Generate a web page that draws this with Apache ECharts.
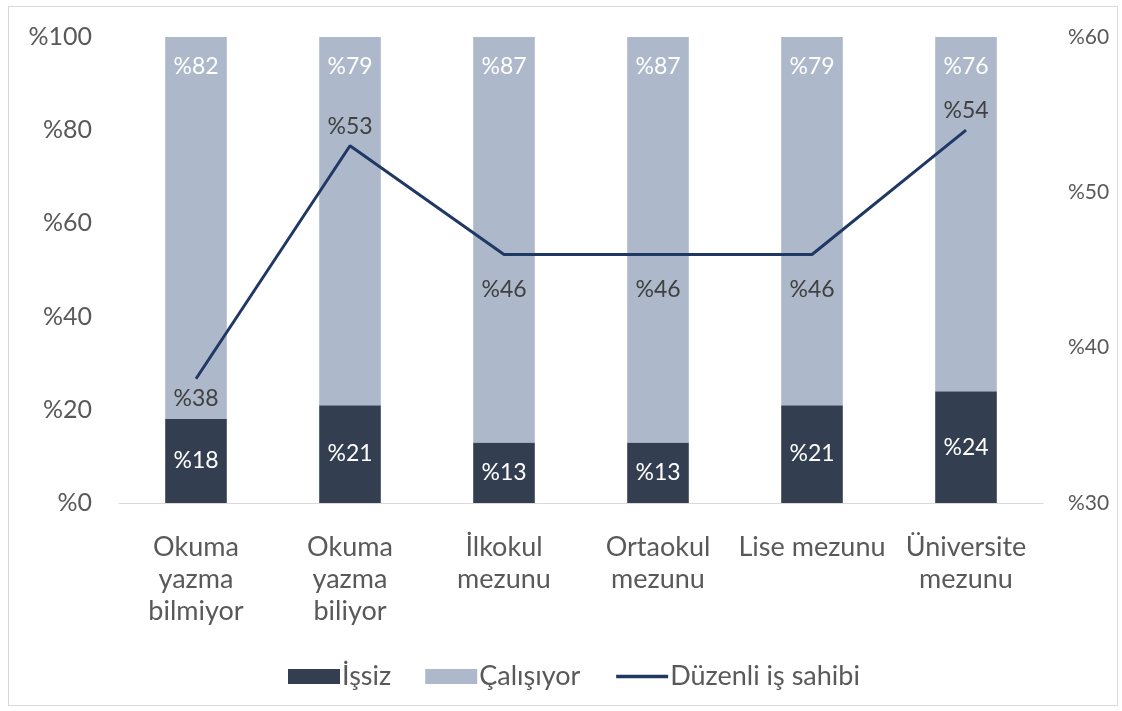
<!DOCTYPE html>
<html>
<head>
<meta charset="utf-8">
<script src="https://cdn.jsdelivr.net/npm/echarts@6/dist/echarts.min.js"></script>
<style>
  html, body { margin: 0; padding: 0; background: #fff; }
  #wrap { position: absolute; left: 8px; top: 6px; width: 1110px; height: 700px; border: 1px solid #d9d9d9; box-sizing: border-box; }
  #chart { position: absolute; left: 0; top: 0; width: 1122px; height: 711px; }
</style>
</head>
<body>
<div id="wrap"></div>
<div id="chart"></div>
<script>
// kategoriler
const categories = ['Okuma\nyazma\nbilmiyor', 'Okuma\nyazma\nbiliyor', 'İlkokul\nmezunu', 'Ortaokul\nmezunu', 'Lise mezunu', 'Üniversite\nmezunu'];
const issiz = [18, 21, 13, 13, 21, 24];       // İşsiz
const calisiyor = [82, 79, 87, 87, 79, 76];   // Çalışıyor
const duzenli = [38, 53, 46, 46, 46, 54];     // Düzenli iş sahibi (sağ eksen)
const labelPos = ['bottom', 'top', 'bottom', 'bottom', 'bottom', 'top'];

const fontFam = 'Lato, "Open Sans", sans-serif';

let myChart = echarts.init(document.getElementById('chart'));

let option = {
    backgroundColor: 'transparent',
    textStyle: { fontFamily: fontFam },
    grid: { left: 119, right: 79, top: 37, bottom: 208 },
    legend: {
        top: 658,
        left: 283,
        itemWidth: 52,
        itemHeight: 15,
        itemGap: 34,
        textStyle: { fontSize: 27, color: '#595959', fontFamily: fontFam, padding: [0, 0, 0, -3] },
        data: [
            { name: 'İşsiz', icon: 'rect' },
            { name: 'Çalışıyor', icon: 'rect' },
            { name: 'Düzenli iş sahibi', itemStyle: { opacity: 0 }, lineStyle: { width: 3.5 } }
        ]
    },
    xAxis: {
        type: 'category',
        data: categories,
        axisLine: { lineStyle: { color: '#d9d9d9', width: 1 } },
        axisTick: { show: false },
        axisLabel: { fontSize: 27, color: '#595959', lineHeight: 32, margin: 28, interval: 0 }
    },
    yAxis: [
        {
            type: 'value', min: 0, max: 100, interval: 20,
            splitLine: { show: false },
            axisLine: { show: false },
            axisTick: { show: false },
            axisLabel: { fontSize: 25, color: '#595959', margin: 27, formatter: '%{value}' }
        },
        {
            type: 'value', min: 30, max: 60, interval: 10,
            splitLine: { show: false },
            axisLine: { show: false },
            axisTick: { show: false },
            axisLabel: { fontSize: 21, color: '#595959', margin: 25, formatter: '%{value}' }
        }
    ],
    series: [
        {
            name: 'İşsiz',
            type: 'bar',
            stack: 'a',
            barWidth: '40%',
            itemStyle: { color: '#333f50' },
            label: { show: true, position: 'inside', color: '#fff', fontSize: 23, formatter: '%{c}' },
            data: issiz
        },
        {
            name: 'Çalışıyor',
            type: 'bar',
            stack: 'a',
            barWidth: '40%',
            itemStyle: { color: '#adb9ca' },
            label: { show: true, position: 'insideTop', distance: 18, color: '#fff', fontSize: 23, formatter: '%{c}' },
            data: calisiyor
        },
        {
            name: 'Düzenli iş sahibi',
            type: 'line',
            yAxisIndex: 1,
            symbol: 'circle',
            symbolSize: 0,
            z: 5,
            lineStyle: { color: '#203864', width: 3 },
            itemStyle: { color: '#203864' },
            label: { show: true, fontSize: 23, color: '#404040', formatter: '%{c}' },
            data: duzenli.map(function (v, i) {
                let d = labelPos[i] === 'bottom' && i > 0 ? 24 : 8;
                return { value: v, label: { position: labelPos[i], distance: d } };
            })
        }
    ]
};

myChart.setOption(option);
</script>
</body>
</html>
